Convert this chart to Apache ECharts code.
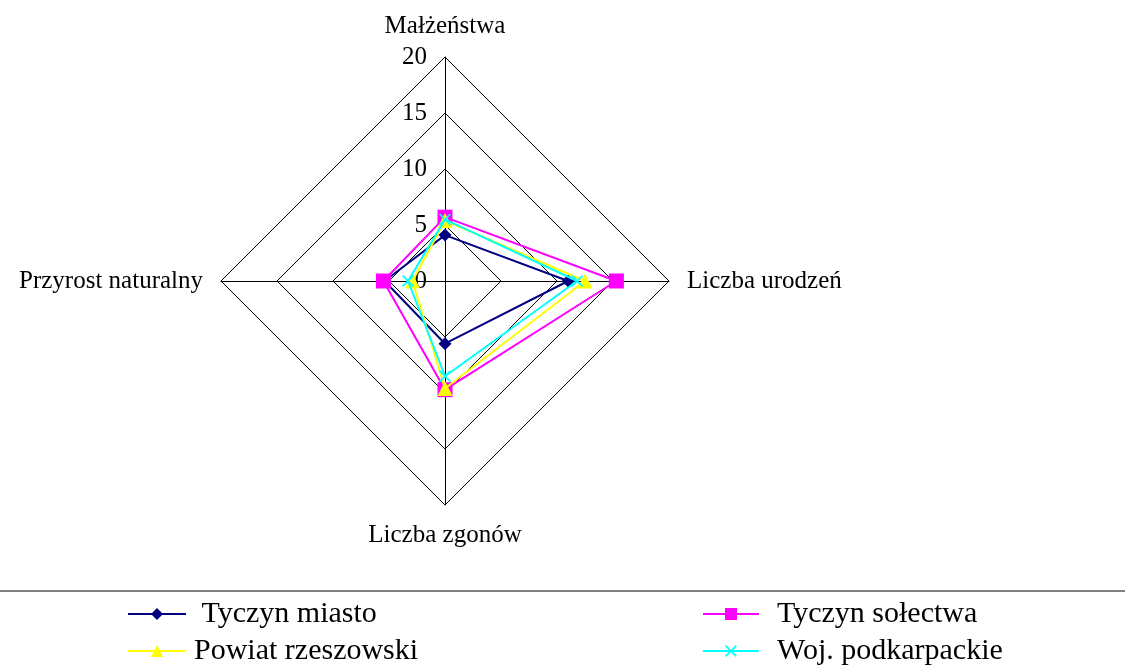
<!DOCTYPE html>
<html><head><meta charset="utf-8">
<script src="https://cdn.jsdelivr.net/npm/echarts@6/dist/echarts.min.js"></script>
<style>html,body{margin:0;padding:0;background:#fff}#c{width:1125px;height:666px}</style>
</head><body><div id="c"></div>
<script>
// indicator order (counterclockwise from top): top, left, bottom, right
const indicators = ['Małżeństwa', 'Przyrost naturalny', 'Liczba zgonów', 'Liczba urodzeń'];
const seriesNames = ['Tyczyn miasto', 'Tyczyn sołectwa', 'Powiat rzeszowski', 'Woj. podkarpackie'];
const tyczynMiasto = [4.1, 5.4, 5.6, 11.0];
const tyczynSolectwa = [5.7, 5.5, 9.7, 15.3];
const powiatRzeszowski = [5.4, 2.9, 9.6, 12.5];
const wojPodkarpackie = [5.5, 3.3, 8.5, 11.8];
const tickLabels = [0, 5, 10, 15, 20];

const values = [tyczynMiasto, tyczynSolectwa, powiatRzeszowski, wojPodkarpackie];
const colors = ['#000080', '#FF00FF', '#FFFF00', '#00FFFF'];
const crossPath = 'path://M0,1L1,0L5,4L9,0L10,1L6,5L10,9L9,10L5,6L1,10L0,9L4,5Z';
const symbols = ['diamond', 'rect', 'triangle', crossPath];
const sizes = [13, 15, 15, 12];
const font = 'Liberation Serif, Times New Roman, serif';

const chart = echarts.init(document.getElementById('c'));
const series = [];
seriesNames.forEach((n, i) => {
  series.push({
    type: 'line', name: n, xAxisIndex: 0, yAxisIndex: 0, data: [],
    symbol: symbols[i], symbolSize: sizes[i],
    lineStyle: { color: colors[i], width: 2 }, itemStyle: { color: colors[i] }
  });
});
seriesNames.forEach((n, i) => {
  series.push({
    type: 'radar', name: n, z: 3 + i,
    symbol: symbols[i], symbolSize: sizes[i],
    lineStyle: { color: colors[i], width: 2 },
    itemStyle: { color: colors[i] },
    data: [{ value: values[i], name: n }]
  });
});

const legendText = { color: '#000', fontFamily: font, fontSize: 30, lineHeight: 30 };

chart.setOption({
  animation: false,
  backgroundColor: '#fff',
  radar: {
    center: [445, 281], radius: 224, shape: 'polygon', splitNumber: 4, startAngle: 90,
    indicator: indicators.map(n => ({ name: n, min: 0, max: 20 })),
    axisName: { color: '#000', fontFamily: font, fontSize: 25 },
    nameGap: 18,
    axisLine: { lineStyle: { color: '#000', width: 1 } },
    splitLine: { lineStyle: { color: '#000', width: 1 } },
    splitArea: { show: false },
    axisLabel: { show: false }
  },
  grid: { left: 445, top: 57, width: 1, height: 224 },
  xAxis: { type: 'category', data: [''], show: false },
  yAxis: {
    type: 'value', min: tickLabels[0], max: tickLabels[tickLabels.length - 1], interval: 5,
    axisLine: { show: false }, axisTick: { show: false }, splitLine: { show: false },
    axisLabel: { color: '#000', fontFamily: font, fontSize: 25, margin: 18 }
  },
  legend: [
    {
      orient: 'vertical', left: 127, top: 599, height: 80, padding: 0,
      itemWidth: 58, itemHeight: 15, itemGap: 7,
      data: [seriesNames[0], seriesNames[2]],
      formatter: n => n === 'Tyczyn miasto' ? ' ' + n : n,
      textStyle: Object.assign({ padding: [0, 0, 0, 3] }, legendText)
    },
    {
      orient: 'vertical', left: 702, top: 599, height: 80, padding: 0,
      itemWidth: 56, itemHeight: 15, itemGap: 7,
      data: [seriesNames[1], seriesNames[3]],
      textStyle: Object.assign({ padding: [0, 0, 0, 13] }, legendText)
    }
  ],
  graphic: [{
    type: 'line', shape: { x1: 0, y1: 591, x2: 1125, y2: 591 },
    style: { stroke: '#808080', lineWidth: 2 }
  }],
  series: series
});
</script></body></html>
